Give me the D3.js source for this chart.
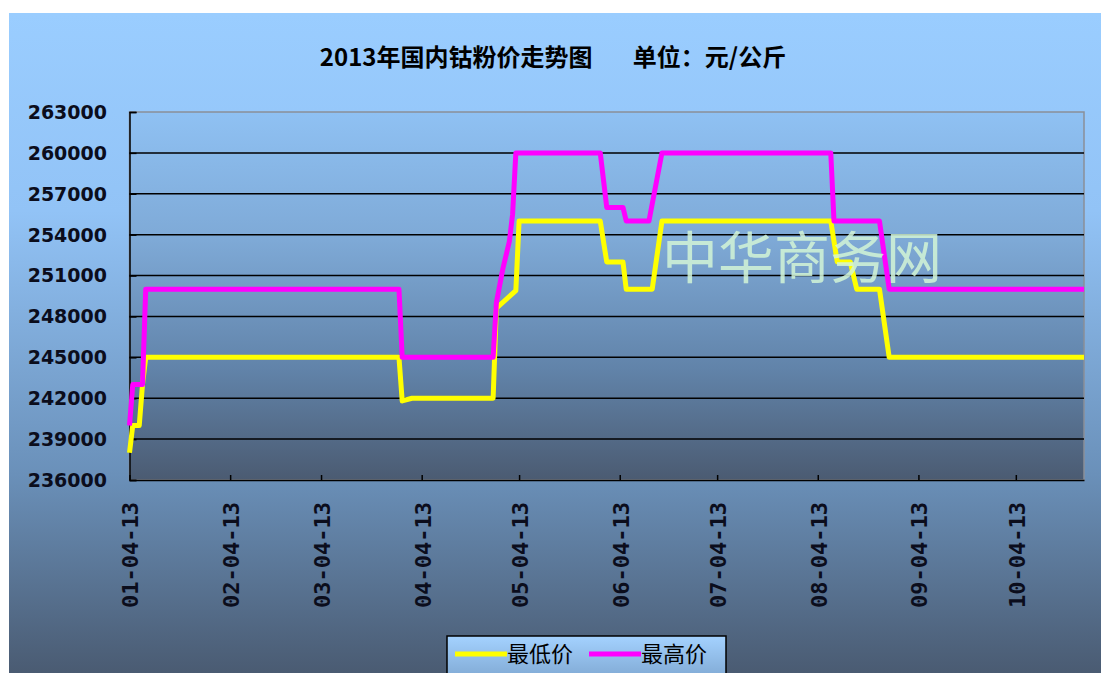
<!DOCTYPE html>
<html>
<head>
<meta charset="utf-8">
<script src="https://cdn.jsdelivr.net/npm/d3@7"></script>
<style>
  body { margin: 0; background: #fff; }
  svg { display: block; }
</style>
</head>
<body>
<div id="chart"></div>
<script>
// chart data
var titleText = "2013年国内钴粉价走势图\u3000\u00a0\u00a0\u00a0单位：元/公斤";
var seriesNames = ["最低价", "最高价"];
var watermark = "中华商务网";

var yTicks = [236000, 239000, 242000, 245000, 248000, 251000, 254000, 257000, 260000, 263000];
var xTicks = ["2013-01-04", "2013-02-04", "2013-03-04", "2013-04-04", "2013-05-04",
              "2013-06-04", "2013-07-04", "2013-08-04", "2013-09-04", "2013-10-04"];
var xDomain = ["2013-01-04", "2013-10-25"];

var lowDates = ["2013-01-04", "2013-01-05", "2013-01-07", "2013-01-08", "2013-01-09",
                "2013-03-28", "2013-03-29", "2013-04-01", "2013-04-26", "2013-04-27",
                "2013-05-03", "2013-05-04", "2013-05-29", "2013-05-31", "2013-06-05",
                "2013-06-06", "2013-06-14", "2013-06-17", "2013-08-08", "2013-08-10",
                "2013-08-14", "2013-08-16", "2013-08-23", "2013-08-26", "2013-10-25"];
var lowValues = [238000, 240000, 240000, 243000, 245000,
                 245000, 241800, 242000, 242000, 248600,
                 249900, 255000, 255000, 252000, 252000,
                 250000, 250000, 255000, 255000, 252000,
                 252000, 250000, 250000, 245000, 245000];

var highDates = ["2013-01-04", "2013-01-05", "2013-01-08", "2013-01-09", "2013-03-28",
                 "2013-03-29", "2013-04-26", "2013-04-27", "2013-04-29", "2013-05-01",
                 "2013-05-02", "2013-05-03", "2013-05-29", "2013-05-31", "2013-06-05",
                 "2013-06-06", "2013-06-13", "2013-06-17", "2013-08-08", "2013-08-09",
                 "2013-08-23", "2013-08-26", "2013-10-25"];
var highValues = [240000, 243000, 243000, 250000, 250000,
                  245000, 245000, 249000, 251500, 253500,
                  255500, 260000, 260000, 256000, 256000,
                  255000, 255000, 260000, 260000, 255000,
                  255000, 250000, 250000];

var colors = ["#ffff00", "#ff00ff"];

const W = 1105, H = 673;
const plot = { left: 129.5, right: 1084, top: 112, bottom: 480 };
const parse = d3.utcParse("%Y-%m-%d");

const svg = d3.select("#chart").append("svg")
    .attr("width", W)
    .attr("height", H);

const defs = svg.append("defs");

function gradient(id, stops) {
    var g = defs.append("linearGradient")
        .attr("id", id)
        .attr("x1", 0).attr("y1", 0).attr("x2", 0).attr("y2", 1);
    stops.forEach(function (s) {
        g.append("stop").attr("offset", s[0]).attr("stop-color", s[1]);
    });
}
gradient("bgGrad", [[0, "#9acdff"], [0.3, "#92c3f6"], [0.7, "#6a90b9"], [1, "#4a5b72"]]);
gradient("plotGrad", [[0, "#8fc1f3"], [0.35, "#7ea9d6"], [0.7, "#6183a9"], [1, "#4b5b72"]]);
gradient("legendGrad", [[0, "#a4d2ff"], [1, "#7aa2cc"]]);

// background of the whole chart
svg.append("rect")
    .attr("x", 9).attr("y", 13)
    .attr("width", 1092).attr("height", H - 13)
    .attr("fill", "url(#bgGrad)");

// scales
const x = d3.scaleUtc()
    .domain(xDomain.map(parse))
    .range([plot.left, plot.right]);

const y = d3.scaleLinear()
    .domain([yTicks[0], yTicks[yTicks.length - 1]])
    .range([plot.bottom, plot.top]);

// plot area
svg.append("rect")
    .attr("x", plot.left).attr("y", plot.top)
    .attr("width", plot.right - plot.left)
    .attr("height", plot.bottom - plot.top)
    .attr("fill", "url(#plotGrad)")
    .attr("stroke", "#8a8f98")
    .attr("stroke-width", 1.5);

// horizontal grid lines
svg.append("g")
    .selectAll("line")
    .data(yTicks.slice(1, -1))
    .enter().append("line")
    .attr("x1", plot.left).attr("x2", plot.right)
    .attr("y1", d => y(d)).attr("y2", d => y(d))
    .attr("stroke", "#000")
    .attr("stroke-width", 1.5);

// y axis
const yAxis = d3.axisRight(y)
    .tickValues(yTicks)
    .tickSize(7)
    .tickFormat("");
const yG = svg.append("g")
    .attr("transform", "translate(" + plot.left + ",0)")
    .call(yAxis);
yG.select(".domain").attr("stroke", "#000").attr("stroke-width", 1.5);
yG.selectAll(".tick line").attr("stroke", "#000").attr("stroke-width", 1.5);

svg.append("g")
    .selectAll("text")
    .data(yTicks)
    .enter().append("text")
    .attr("x", 107)
    .attr("y", d => y(d))
    .attr("dy", "0.36em")
    .attr("text-anchor", "end")
    .style("font-family", "'DejaVu Sans', sans-serif")
    .style("font-weight", "bold")
    .style("font-size", "19px")
    .style("fill", "#0b0d1c")
    .text(d => d);

// x axis
const xAxis = d3.axisTop(x)
    .tickValues(xTicks.map(parse))
    .tickSize(5)
    .tickSizeOuter(0)
    .tickFormat("");
const xG = svg.append("g")
    .attr("transform", "translate(0," + plot.bottom + ")")
    .call(xAxis);
xG.select(".domain").attr("stroke", "#000").attr("stroke-width", 1.5);
xG.selectAll(".tick line").attr("stroke", "#000").attr("stroke-width", 1.5);

const fmt = d3.utcFormat("%m-%d-%y");
svg.append("g")
    .selectAll("text")
    .data(xTicks.map(parse))
    .enter().append("text")
    .attr("transform", d => "translate(" + (x(d) + 1) + ",502) rotate(-90)")
    .attr("dy", "0.36em")
    .attr("text-anchor", "end")
    .style("font-family", "'DejaVu Sans Mono', monospace")
    .style("font-weight", "bold")
    .style("font-size", "22px")
    .style("fill", "#0b0d1c")
    .text(d => fmt(d));

// series lines
const line = d3.line()
    .x(d => x(d[0]))
    .y(d => y(d[1]));

const series = [
    d3.zip(lowDates.map(parse), lowValues),
    d3.zip(highDates.map(parse), highValues)
];

svg.append("g")
    .selectAll("path")
    .data(series)
    .enter().append("path")
    .attr("d", line)
    .attr("fill", "none")
    .attr("stroke", (d, i) => colors[i])
    .attr("stroke-width", 5)
    .attr("stroke-linejoin", "round");

// watermark
svg.append("text")
    .attr("x", 802)
    .attr("y", 278)
    .attr("text-anchor", "middle")
    .style("font-family", "'Noto Sans CJK SC', sans-serif")
    .style("font-size", "56px")
    .style("fill", "#d2f5d6")
    .style("fill-opacity", 0.85)
    .text(watermark);

// title
svg.append("text")
    .attr("x", 553)
    .attr("y", 66)
    .attr("text-anchor", "middle")
    .style("font-family", "'Noto Sans CJK SC', sans-serif")
    .style("font-weight", "bold")
    .style("font-size", "24px")
    .style("fill", "#000")
    .text(titleText);

// legend
const legend = svg.append("g");
legend.append("rect")
    .attr("x", 447).attr("y", 636)
    .attr("width", 279).attr("height", 50)
    .attr("fill", "url(#legendGrad)")
    .attr("stroke", "#000")
    .attr("stroke-width", 1.5);

const legendX = [455, 589];
seriesNames.forEach(function (name, i) {
    legend.append("line")
        .attr("x1", legendX[i]).attr("x2", legendX[i] + 52)
        .attr("y1", 654).attr("y2", 654)
        .attr("stroke", colors[i])
        .attr("stroke-width", 5);
    legend.append("text")
        .attr("x", legendX[i] + 52)
        .attr("y", 662)
        .style("font-family", "'Noto Sans CJK SC', sans-serif")
        .style("font-size", "22px")
        .style("fill", "#000")
        .text(name);
});
</script>
</body>
</html>
